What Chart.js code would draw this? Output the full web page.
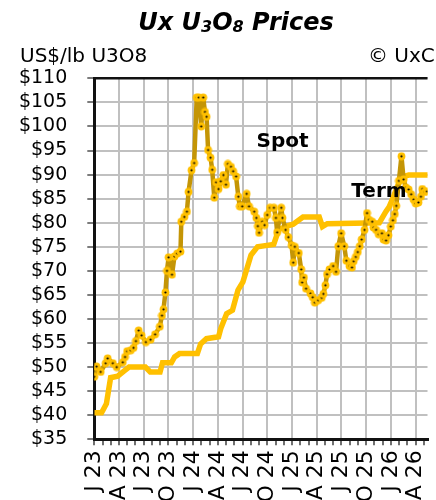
<!DOCTYPE html>
<html><head><meta charset="utf-8">
<script src="https://cdn.jsdelivr.net/npm/chart.js@4.4.1/dist/chart.umd.min.js"></script>
<style>html,body{margin:0;padding:0;background:#fff;}#wrap{width:436px;height:500px;position:relative;overflow:hidden;}</style>
</head><body><div id="wrap"><canvas id="c" width="436" height="500"></canvas></div>
<script>
// ---- data (x = months since Jan 2023) ----
const quarterLabels = ['J 23','A 23','J 23','O 23','J 24','A 24','J 24','O 24','J 25','A 25','J 25','O 25','J 26','A 26'];
const spotMonths = [0.00,0.28,0.77,1.38,1.62,2.25,2.72,3.46,3.73,3.99,
 4.43,4.76,5.05,5.38,5.74,6.26,6.83,7.38,7.95,8.21,
 8.40,8.63,8.82,9.02,9.43,9.73,10.06,10.46,10.56,10.93,
 11.24,11.44,11.80,12.12,12.43,12.69,12.98,13.22,13.43,13.63,
 13.81,14.11,14.31,14.56,14.79,15.08,15.35,15.67,15.98,16.21,
 16.59,16.85,17.21,17.48,17.66,17.95,18.49,18.78,19.41,19.67,
 19.85,20.00,20.38,20.67,20.99,21.33,21.80,22.04,22.19,22.69,
 22.84,23.22,23.55,23.95,24.14,24.34,24.82,25.11,25.23,25.44,
 25.70,26.24,26.51,26.77,27.18,27.60,27.81,28.05,28.25,28.54,
 28.99,29.34,29.61,29.96,30.34,30.59,30.97,31.27,31.48,31.74,
 31.98,32.21,32.45,32.80,33.10,33.34,33.73,33.89,34.20,34.52,
 34.91,35.11,35.41,35.70,35.98,36.24,36.47,36.65,36.97,37.28,
 37.54,37.83,38.15,38.46,38.75,39.02,39.34,39.64,39.81,40.12,
 40.38];
const spotPrices = [48.0,50.1,49.0,50.8,51.8,50.8,50.0,51.0,52.1,53.3,
 53.5,54.0,55.4,57.6,56.6,55.2,55.7,56.8,58.4,60.7,
 62.0,65.5,70.0,72.8,69.2,73.0,73.6,74.0,80.2,81.2,
 82.3,86.4,90.9,92.4,106,106,100,106,103,102,
 95.1,93.5,91.0,85.2,88.4,87.0,88.6,89.9,87.9,92.2,
 91.6,90.7,89.6,85.4,83.4,83.4,86.0,83.4,82.3,81.0,
 79.3,77.9,80.2,79.5,81.6,83.1,83.1,81.0,78.0,83.1,
 81.0,78.5,77.0,75.3,71.7,75.0,73.7,70.3,67.6,68.6,
 66.3,65.3,64.5,63.4,63.9,64.4,65.2,67.0,69.3,70.3,
 71.0,69.8,75.1,77.8,75.1,72.1,71.0,70.7,72.0,72.9,
 73.9,75.1,76.5,78.5,82.0,80.6,80.2,79.0,78.5,77.6,
 77.8,76.5,76.3,77.4,79.2,80.5,81.8,83.5,88.7,93.8,
 89.0,87.3,86.9,85.9,84.8,84.0,84.2,85.4,87.0,86.4,
 86.5];
const termMonths = [0,0.88,1.47,1.98,2.84,3.63,4.22,6.20,6.79,7.98,
 8.28,9.35,9.75,10.34,12.51,12.90,13.61,15.08,15.35,16.06,
 16.77,17.44,18.04,19.02,19.81,21.78,22.37,23.16,24.14,25.33,
 27.30,27.69,28.28,34.60,35.38,35.79,36.38,36.77,37.36,38.15,
 40.6];
const termPrices = [40.5,40.5,42.4,47.8,48.1,49.2,50.0,50.0,49.0,49.0,
 50.9,50.9,52.1,52.8,52.8,54.8,55.9,56.3,58.0,61.1,
 61.8,66.0,67.7,73.3,75.0,75.5,78.5,79.2,79.7,81.2,
 81.2,79.2,79.8,80.0,82.3,83.3,85.7,87.5,89.5,89.9,
 89.9];
const titleParts = ['Ux U','3','O','8',' Prices'];
const unitLabel = 'US$/lb U3O8';
const sourceLabel = '\u00A9 UxC';
const seriesNames = ['Spot','Term'];
const yMin = 35, yMax = 110, yStep = 5;
const xMaxMonth = 40.44;

// ---- drawing ----
const FONT = "'DejaVu Sans', sans-serif";
function makeMarker(){
  const c = document.createElement('canvas'); c.width = 9; c.height = 9;
  const g = c.getContext('2d');
  g.fillStyle = '#FFC000'; g.beginPath(); g.arc(4.5,4.5,3.9,0,Math.PI*2); g.fill();
  g.fillStyle = '#000'; g.beginPath(); g.arc(4.5,4.5,1.1,0,Math.PI*2); g.fill();
  return c;
}
const marker = makeMarker();

const headerPlugin = {
  id: 'header',
  afterDraw(chart){
    const ctx = chart.ctx, ca = chart.chartArea;
    ctx.save();
    ctx.strokeStyle = '#111'; ctx.lineWidth = 2.5;
    ctx.beginPath(); ctx.moveTo(ca.left, ca.top); ctx.lineTo(ca.right, ca.top); ctx.stroke();
    ctx.fillStyle = '#000'; ctx.textBaseline = 'alphabetic'; ctx.textAlign = 'left';
    const big = 'italic bold 24px ' + FONT, small = 'italic bold 16px ' + FONT;
    const fonts = [big, small, big, small, big], offs = [0, 2, 0, 2, 0];
    let w = 0;
    titleParts.forEach((t,i)=>{ ctx.font = fonts[i]; w += ctx.measureText(t).width; });
    let x = 236 - w/2;
    titleParts.forEach((t,i)=>{ ctx.font = fonts[i]; ctx.fillText(t, x, 29.5 + offs[i]); x += ctx.measureText(t).width; });
    ctx.font = '20px ' + FONT;
    ctx.fillText(unitLabel, 20, 62);
    ctx.fillText(sourceLabel, 368, 62);
    const xs = chart.scales.x, ys = chart.scales.y;
    ctx.font = 'bold 20px ' + FONT;
    ctx.fillText(seriesNames[0], xs.getPixelForValue(19.7), ys.getPixelForValue(95.7));
    ctx.fillText(seriesNames[1], xs.getPixelForValue(31.2), ys.getPixelForValue(85.4));
    ctx.restore();
  }
};

const monthTicks = Array.from({length: 41}, (_, i) => i);

new Chart(document.getElementById('c'), {
  type: 'line',
  data: {
    datasets: [
      {
        label: seriesNames[0],
        data: spotMonths.map((m,i)=>({x:m, y:spotPrices[i]})),
        borderColor: '#C49506', borderWidth: 4.5, tension: 0,
        borderJoinStyle: 'round',
        pointStyle: marker, pointRadius: 4, pointHoverRadius: 4
      },
      {
        label: seriesNames[1],
        data: termMonths.map((m,i)=>({x:m, y:termPrices[i]})),
        borderColor: '#FFC000', borderWidth: 5.5, tension: 0,
        borderJoinStyle: 'miter', borderCapStyle: 'butt',
        pointRadius: 0
      }
    ]
  },
  options: {
    responsive: false, animation: false, devicePixelRatio: 1,
    layout: { padding: { top: 78.3, left: 0, right: 0, bottom: 0 } },
    plugins: { legend: { display: false }, title: { display: false }, tooltip: { enabled: false } },
    scales: {
      x: {
        type: 'linear', min: 0, max: xMaxMonth,
        afterBuildTicks: s => { s.ticks = monthTicks.map(v => ({ value: v })); },
        afterFit: s => { s.height = 60.7; s.paddingLeft = 0; s.paddingRight = 0; },
        grid: {
          color: c => (c.tick && c.tick.value % 3 === 0) ? '#c0c0c0' : 'rgba(0,0,0,0)',
          lineWidth: 2, tickColor: '#222', tickLength: 6, tickWidth: 1.3
        },
        border: { display: true, color: '#111', width: 3 },
        ticks: {
          autoSkip: false, minRotation: 90, maxRotation: 90, padding: 5,
          font: { family: FONT, size: 22 }, color: '#000',
          callback: v => (v % 3 === 0 ? quarterLabels[v / 3] : '')
        }
      },
      y: {
        min: yMin, max: yMax,
        afterFit: s => { s.width = 94.3; },
        grid: { color: '#c0c0c0', lineWidth: 2, tickColor: '#333', tickLength: 7, tickWidth: 1.3 },
        border: { display: true, color: '#111', width: 3 },
        ticks: {
          stepSize: yStep, padding: 20, autoSkip: false,
          font: { family: FONT, size: 19 }, color: '#000',
          callback: v => '$' + v
        }
      }
    }
  },
  plugins: [headerPlugin]
});
</script></body></html>
